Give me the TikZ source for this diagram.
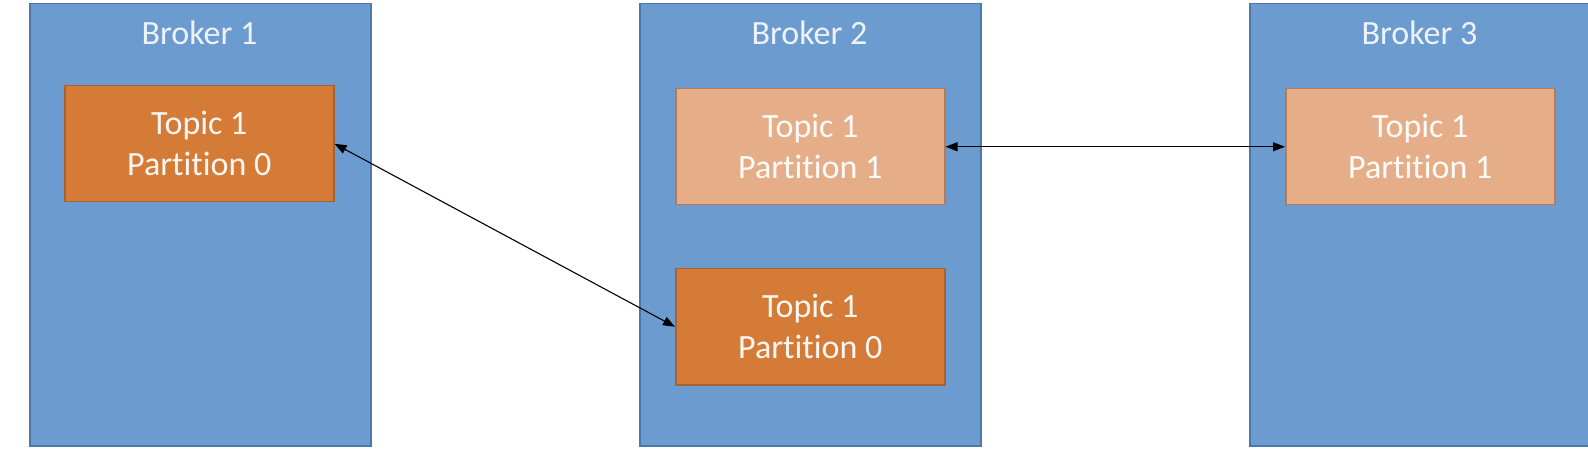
\documentclass[tikz,border=0pt]{standalone}
\usepackage{fontspec}
\setmainfont[Ligatures=NoCommon]{Carlito}
\usetikzlibrary{arrows.meta}
\definecolor{brokerfill}{HTML}{6C9BD0}
\definecolor{brokerdraw}{HTML}{4A78A8}
\definecolor{leadfill}{HTML}{D57B38}
\definecolor{leaddraw}{HTML}{A8622E}
\definecolor{followfill}{HTML}{E5AE88}
\definecolor{followdraw}{HTML}{B87A50}
\definecolor{labeltext}{HTML}{EEF3FA}
\begin{document}
\begin{tikzpicture}[x=1pt,y=-1pt,
  broker/.style={draw=brokerdraw, fill=brokerfill, line width=1.5pt,
    minimum width=341pt, minimum height=442pt, anchor=north west, inner sep=0pt},
  blabel/.style={text=labeltext, font=\fontsize{34}{41}\selectfont, inner sep=0pt},
  part/.style={line width=1.5pt, minimum width=269pt, minimum height=116pt,
    anchor=north west, inner sep=0pt, align=center,
    font=\fontsize{34}{41}\selectfont},
  leader/.style={part, draw=leaddraw, fill=leadfill, text=white!94!leadfill},
  follower/.style={part, draw=followdraw, fill=followfill, text=white!96!followfill},
  conn/.style={{Triangle[length=12pt,width=9pt]}-{Triangle[length=12pt,width=9pt]},
    line width=1.1pt, black}
]
\fill[white] (0,0) rectangle (1588,462);
\useasboundingbox (0,0) rectangle (1588,462);
\clip (0,0) rectangle (1588,462);

\node[broker] (b1) at (29,3) {};
\node[broker] (b2) at (639,3) {};
\node[broker] (b3) at (1249,3) {};

\node[blabel] (l1) at (199.5,33) {Broker 1};
\node[blabel] (l2) at (809.5,33) {Broker 2};
\node[blabel] (l3) at (1419.5,33) {Broker 3};

\node[leader] (p1) at (64,85) {Topic 1\\Partition 0};
\node[follower] (p2) at (675,88) {Topic 1\\Partition 1};
\node[leader] (p3) at (675,268) {Topic 1\\Partition 0};
\node[follower] (p4) at (1285,88) {Topic 1\\Partition 1};

\draw[conn] (p1.east) -- (p3.west);
\draw[conn] (p2.east) -- (p4.west);
\end{tikzpicture}
\end{document}
